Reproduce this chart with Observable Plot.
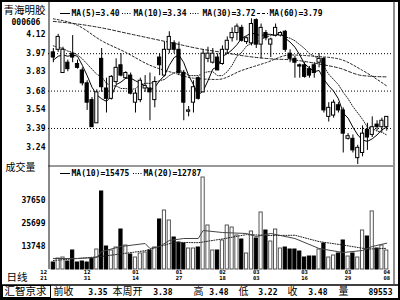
<!DOCTYPE html>
<html>
<head>
<meta charset="utf-8">
<script src="https://cdn.jsdelivr.net/npm/d3@7"></script>
<script src="https://cdn.jsdelivr.net/npm/@observablehq/plot@0.6"></script>
<style>
  html, body { margin: 0; padding: 0; background: #fff; }
  #chart { position: relative; width: 400px; height: 300px; overflow: hidden; background: #fff; }
  #chart svg { position: absolute; left: 0; top: 0; }
</style>
</head>
<body>
<div id="chart"></div>
<script>
// ---- data ----
const stockName = "青海明胶";
const stockCode = "000606";
const opens = [3.98,4.00,3.82,3.90,3.97,3.89,3.84,3.74,3.61,3.43,
  3.93,3.70,3.62,3.75,3.88,3.78,3.80,3.59,3.61,3.70,
  3.70,3.61,3.94,3.80,4.00,4.05,4.00,3.82,3.52,3.59,
  3.78,3.67,3.93,3.90,3.94,3.89,4.00,4.09,4.13,4.17,
  4.06,4.05,4.23,4.04,4.13,4.04,4.11,4.11,4.14,3.97,
  3.93,3.88,3.88,3.85,3.88,3.90,3.93,3.48,3.49,3.57,
  3.53,3.31,3.31,3.16,3.20,3.38,3.34,3.42,3.40,3.40];
const highs = [4.01,4.12,4.02,3.92,4.11,3.92,3.86,3.76,3.63,3.69,
  4.01,3.78,3.80,3.93,3.97,3.83,3.82,3.69,3.78,3.80,
  3.82,3.79,3.97,4.06,4.14,4.07,4.06,3.84,3.56,3.76,
  3.79,4.00,4.02,4.01,3.97,4.03,4.10,4.17,4.20,4.19,
  4.10,4.24,4.24,4.20,4.15,4.09,4.20,4.14,4.15,4.00,
  3.95,3.89,3.90,3.87,3.90,3.97,3.94,3.59,3.61,3.59,
  3.55,3.35,3.34,3.26,3.41,3.43,3.48,3.45,3.47,3.48];
const lows = [3.90,3.98,3.82,3.83,3.90,3.85,3.72,3.53,3.40,3.43,
  3.67,3.51,3.61,3.73,3.79,3.77,3.65,3.51,3.59,3.67,
  3.45,3.55,3.80,3.79,3.97,3.97,3.80,3.45,3.48,3.51,
  3.61,3.67,3.90,3.89,3.84,3.88,3.97,4.06,4.07,4.06,
  4.04,4.03,4.01,3.93,4.07,3.94,4.10,4.10,3.98,3.90,
  3.78,3.78,3.78,3.78,3.78,3.86,3.51,3.44,3.47,3.51,
  3.20,3.30,3.20,3.11,3.17,3.22,3.32,3.37,3.36,3.37];
const closes = [3.94,4.10,4.00,3.85,3.94,3.86,3.74,3.59,3.40,3.67,
  3.71,3.62,3.79,3.86,3.80,3.82,3.66,3.66,3.76,3.72,
  3.67,3.75,3.88,4.00,4.10,4.00,3.82,3.59,3.53,3.71,
  3.62,3.97,3.97,3.97,3.84,4.00,4.07,4.13,4.18,4.07,
  4.09,4.20,4.04,4.17,4.09,4.08,4.17,4.13,4.00,3.93,
  3.90,3.87,3.79,3.80,3.82,3.93,3.53,3.55,3.59,3.53,
  3.35,3.33,3.22,3.24,3.35,3.32,3.40,3.40,3.45,3.48];
const volumes = [5434,7513,8032,5954,11670,5434,5954,5434,7513,12189,
  42326,13748,11670,13228,22581,14267,9591,8032,10110,10630,
  11670,13228,27777,32453,27257,18424,15826,15307,12709,12709,
  13228,49601,24659,11670,11670,16865,24659,23620,19463,17385,
  10110,21542,17904,31414,22061,16346,22581,12709,13228,12189,
  12189,11150,8032,8552,8552,12189,15307,8032,9071,10110,
  16865,8552,10110,8032,22061,18944,31963,12709,14267,11670];
const ma5 = [3.92,3.95,3.96,3.95,3.96,3.95,3.88,3.80,3.71,3.65,
  3.62,3.60,3.64,3.73,3.75,3.78,3.78,3.76,3.74,3.72,
  3.69,3.71,3.76,3.80,3.88,3.94,3.96,3.90,3.80,3.73,
  3.65,3.68,3.76,3.85,3.87,3.95,3.97,4.00,4.04,4.09,
  4.11,4.13,4.12,4.11,4.12,4.12,4.11,4.13,4.09,4.06,
  4.02,3.96,3.89,3.86,3.83,3.84,3.77,3.72,3.68,3.62,
  3.51,3.47,3.40,3.34,3.30,3.29,3.31,3.34,3.38,3.40];
const ma10 = [4.03,4.02,4.01,3.99,3.98,3.96,3.93,3.89,3.85,3.81,
  3.79,3.74,3.72,3.72,3.70,3.70,3.69,3.70,3.73,3.74,
  3.74,3.75,3.76,3.77,3.80,3.82,3.84,3.83,3.80,3.80,
  3.80,3.82,3.83,3.83,3.80,3.80,3.83,3.88,3.95,3.98,
  4.03,4.05,4.06,4.08,4.10,4.11,4.12,4.12,4.10,4.09,
  4.07,4.04,4.01,3.97,3.95,3.93,3.87,3.81,3.77,3.73,
  3.67,3.62,3.56,3.51,3.46,3.40,3.39,3.37,3.36,3.34];
const ma30Idx = [0,5,10,15,20,25,29,34,39,44,49,54,59,64,69];
const ma30Val = [4.24,4.19,4.07,3.98,3.88,3.82,3.78,3.77,3.84,3.90,3.96,3.95,3.93,3.84,3.72];
const ma60Idx = [0,5,10,15,20,25,30,35,40,45,50,55,59,64,69];
const ma60Val = [4.22,4.20,4.17,4.13,4.09,4.05,4.01,3.98,3.95,3.93,3.92,3.89,3.86,3.80,3.79];
const volMa10Idx = [0,5,9,10,14,19,20,22,24,27,30,31,35,40,42,45,50,55,60,64,66,69];
const volMa10Val = [7513,7513,8032,11150,13748,15307,12709,13748,16865,17904,17904,22061,21022,20503,18944,20503,17904,12709,10630,11670,13748,15475];
const volMa20Idx = [0,10,19,25,30,35,40,45,50,55,60,65,69];
const volMa20Val = [6473,8573,11565,15904,15722,17671,19931,19437,19593,16294,14501,12423,12787];
const priceTicks = [4.12,3.97,3.83,3.68,3.54,3.39,3.24];
const priceGrid = [3.97,3.68,3.39];
const priceDomain = [3.103,4.3435];
const volTicks = [37650,25699,13748];
const volDomain = [1797,49601];
const dateIdx = [-2,7,17,26,35,42,52,61,69];
const dateLabels = ["12/21","12/31","01/14","01/27","02/18","03/03","03/16","03/29","04/08"];
const barNames = ["前收","本周开","高","低","收","量"];

// ---- derived ----
const N = closes.length;
const candles = opens.map((o, i) => ({i, o, h: highs[i], l: lows[i], c: closes[i], v: volumes[i], up: closes[i] >= o}));
const wk = candles.slice(N - 5);
const barValues = [
  closes[N - 6].toFixed(2),
  opens[N - 5].toFixed(2),
  d3.max(wk, d => d.h).toFixed(2),
  d3.min(wk, d => d.l).toFixed(2),
  closes[N - 1].toFixed(2),
  String(d3.sum(wk, d => d.v))
];
const priceLegend = [
  "MA(5)=" + ma5[N - 1].toFixed(2),
  "MA(10)=" + ma10[N - 1].toFixed(2),
  "MA(30)=" + ma30Val[ma30Val.length - 1].toFixed(2),
  "MA(60)=" + ma60Val[ma60Val.length - 1].toFixed(2)
];
const volLegend = [
  "MA(10)=" + volMa10Val[volMa10Val.length - 1],
  "MA(20)=" + volMa20Val[volMa20Val.length - 1]
];
const dateTop = dateLabels.map(s => s.split("/")[0]);
const dateBottom = dateLabels.map(s => s.split("/")[1]);

// ---- styles / layout ----
const MONO = "'DejaVu Sans Mono','Liberation Mono',monospace";
const CJK = "'Noto Sans CJK SC','Noto Sans CJK JP',sans-serif";
const half = 0.33;
const common = {width: 400, height: 300, marginLeft: 48, marginRight: 7,
  style: {background: "transparent", overflow: "visible"}};
const xOpt = {domain: [-1, 70.4], axis: null};
const monoText = {fontFamily: MONO, fontWeight: "bold", fontSize: 8, fill: "#000"};
const dateText = {fontFamily: MONO, fontWeight: "bold", fontSize: 5.5, fill: "#000", frameAnchor: "bottom"};

// decorations / static text (pixel space)
const overlay = Plot.plot({
  width: 400, height: 300, margin: 0,
  style: {background: "transparent", overflow: "visible"},
  x: {domain: [0, 400], range: [0, 400], axis: null},
  y: {domain: [0, 300], range: [0, 300], axis: null},
  marks: [
    Plot.rect([0], {x1: 1, x2: 399, y1: 1, y2: 299, fill: "none", stroke: "#000", strokeWidth: 2}),
    Plot.ruleX([393.5], {y1: 1, y2: 284, stroke: "#222", strokeWidth: 1}),
    Plot.ruleX([48.5], {y1: 2, y2: 269, stroke: "#888", strokeWidth: 2}),
    Plot.ruleY([165.5], {x1: 48, x2: 393, stroke: "#333", strokeWidth: 1}),
    Plot.ruleY([284.5], {x1: 0, x2: 400, stroke: "#000", strokeWidth: 1.5}),
    Plot.rect([0], {x1: 2.5, x2: 50.5, y1: 285.5, y2: 297.5, fill: "none", stroke: "#000", strokeWidth: 1}),
    // title
    Plot.text([stockName], {x: 3, y: 10, text: d => d, textAnchor: "start", fontFamily: CJK, fontSize: 10.5, fill: "#000"}),
    Plot.text([stockCode], {x: 11, y: 22, text: d => d, textAnchor: "start", ...monoText}),
    Plot.text(["成交量"], {x: 5, y: 167, text: d => d, textAnchor: "start", fontFamily: CJK, fontSize: 10, fill: "#000"}),
    Plot.text(["日线"], {x: 6, y: 277, text: d => d, textAnchor: "start", fontFamily: CJK, fontSize: 10.5, fill: "#000"}),
    // price legend
    Plot.ruleY([13], {x1: 60, x2: 70, stroke: "#000", strokeWidth: 1}),
    Plot.ruleY([13], {x1: 122, x2: 132, stroke: "#000", strokeWidth: 1, strokeDasharray: "1,1.5"}),
    Plot.ruleY([13], {x1: 190, x2: 200, stroke: "#000", strokeWidth: 1, strokeDasharray: "1,1.5"}),
    Plot.ruleY([13], {x1: 257, x2: 268, stroke: "#000", strokeWidth: 1, strokeDasharray: "3,2"}),
    Plot.text(priceLegend, {x: (d, k) => [71, 133, 202, 269][k], y: 13, text: d => d, textAnchor: "start", ...monoText}),
    // volume legend
    Plot.ruleY([173], {x1: 60, x2: 70, stroke: "#000", strokeWidth: 1}),
    Plot.ruleY([173], {x1: 133, x2: 142, stroke: "#000", strokeWidth: 1, strokeDasharray: "1,1.5"}),
    Plot.text(volLegend, {x: (d, k) => [71, 143][k], y: 173, text: d => d, textAnchor: "start", ...monoText}),
    // bottom bar
    Plot.text(["汇智京求"], {x: 4, y: 291.5, text: d => d, textAnchor: "start", fontFamily: CJK, fontSize: 10.5, fill: "#000"}),
    Plot.text(barNames, {x: (d, k) => [53, 112, 193, 238, 287, 338][k], y: 291.5, text: d => d, textAnchor: "start", fontFamily: CJK, fontSize: 10, fill: "#000"}),
    Plot.text(barValues, {x: (d, k) => [107, 172, 228, 277, 327, 392][k], y: 292, text: d => d, textAnchor: "end", ...monoText})
  ]
});

// price panel
const pricePlot = Plot.plot({
  ...common, marginTop: 5, marginBottom: 135,
  x: xOpt,
  y: {domain: priceDomain, axis: null},
  marks: [
    Plot.ruleY(priceGrid, {stroke: "#000", strokeWidth: 1, strokeDasharray: "1,2"}),
    Plot.text(priceTicks, {y: d => d, text: d => d.toFixed(2), frameAnchor: "left", textAnchor: "end", dx: -3, ...monoText}),
    Plot.line(ma60Val, {x: (d, k) => ma60Idx[k], y: d => d, stroke: "#222", strokeWidth: 1, strokeDasharray: "3,2", curve: "monotone-x", clip: true}),
    Plot.line(ma30Val, {x: (d, k) => ma30Idx[k], y: d => d, stroke: "#222", strokeWidth: 1, strokeDasharray: "2,2", curve: "monotone-x", clip: true}),
    Plot.line(ma10, {x: (d, k) => k, y: d => d, stroke: "#222", strokeWidth: 1, strokeDasharray: "1,1.5", clip: true}),
    Plot.line(ma5, {x: (d, k) => k, y: d => d, stroke: "#000", strokeWidth: 1, clip: true}),
    Plot.ruleX(candles, {x: "i", y1: "l", y2: "h", stroke: "#000", strokeWidth: 1}),
    Plot.rect(candles, {filter: d => d.up, x1: d => d.i - half, x2: d => d.i + half, y1: "o", y2: "c", fill: "#fff", stroke: "#000", strokeWidth: 1}),
    Plot.rect(candles, {filter: d => !d.up, x1: d => d.i - half, x2: d => d.i + half, y1: "o", y2: "c", fill: "#000", stroke: "#000", strokeWidth: 1})
  ]
});

// volume panel
const volPlot = Plot.plot({
  ...common, marginTop: 177, marginBottom: 31,
  x: xOpt,
  y: {domain: volDomain, axis: null},
  marks: [
    Plot.rect(candles, {filter: d => d.up, x1: d => d.i - half, x2: d => d.i + half, y1: volDomain[0], y2: "v", fill: "#fff", stroke: "#555", strokeWidth: 1}),
    Plot.rect(candles, {filter: d => !d.up, x1: d => d.i - half, x2: d => d.i + half, y1: volDomain[0], y2: "v", fill: "#000", stroke: "#000", strokeWidth: 1}),
    Plot.line(volMa20Val, {x: (d, k) => volMa20Idx[k], y: d => d, stroke: "#222", strokeWidth: 1, strokeDasharray: "1,1.5"}),
    Plot.line(volMa10Val, {x: (d, k) => volMa10Idx[k], y: d => d, stroke: "#444", strokeWidth: 1}),
    Plot.text(volTicks, {y: d => d, text: d => String(d), frameAnchor: "left", textAnchor: "end", dx: -3, ...monoText}),
    Plot.text(dateIdx, {x: d => d, text: (d, k) => dateTop[k], dy: 4.3, ...dateText}),
    Plot.text(dateIdx, {x: d => d, text: (d, k) => dateBottom[k], dy: 10, ...dateText})
  ]
});

const root = document.getElementById("chart");
root.appendChild(overlay);
root.appendChild(pricePlot);
root.appendChild(volPlot);
</script>
</body>
</html>
